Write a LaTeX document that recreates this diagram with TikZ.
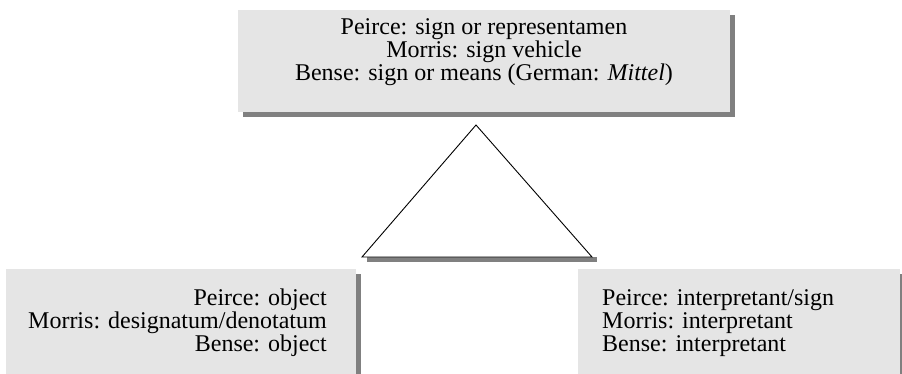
\documentclass[tikz,border=0pt]{standalone}
\usepackage{fontspec}
\setmainfont{Liberation Serif}
\usetikzlibrary{shadows}

\definecolor{boxgray}{HTML}{E5E5E5}
\definecolor{shadegray}{HTML}{808080}

\tikzset{
  sembox/.style={rectangle, fill=boxgray, inner sep=0pt,
    general shadow={fill=shadegray, shadow xshift=5pt, shadow yshift=-5pt}},
  semtext/.style={inner sep=0pt, font=\fontsize{24}{24}\selectfont}
}

\begin{document}
\begin{tikzpicture}[x=1pt,y=-1pt]
\useasboundingbox (0,0) rectangle (902,373);
\clip (0,0) rectangle (902,373);
% sign vehicle on top
\node[sembox, minimum width=492pt, minimum height=102pt] (sign) at (484,61) {};
\node[semtext, anchor=base] (signA) at (484,34) {Peirce: sign or representamen};
\node[semtext, anchor=base] (signB) at (484,57) {Morris: sign vehicle};
\node[semtext, anchor=base] (signC) at (484,80) {Bense: sign or means (German: \textit{Mittel})};
% triangle
\coordinate (apex) at (476,125);
\coordinate (lbase) at (362,257);
\coordinate (rbase) at (592,257);
\fill[shadegray] ([xshift=5pt]lbase) rectangle ([xshift=5pt,yshift=-5pt]rbase);
\draw[line width=0.9pt, fill=white] (apex) -- (rbase) -- (lbase) -- cycle;
% object, left
\node[sembox, minimum width=350pt, minimum height=110pt] (obj) at (181,324) {};
\node[semtext, anchor=base east] (objA) at (327,305) {Peirce: object};
\node[semtext, anchor=base east] (objB) at (327,328) {Morris: designatum/denotatum};
\node[semtext, anchor=base east] (objC) at (327,351) {Bense: object};
% interpretant, right
\node[sembox, minimum width=322pt, minimum height=110pt] (intp) at (739,324) {};
\node[semtext, anchor=base west] (intpA) at (602,305) {Peirce: interpretant/sign};
\node[semtext, anchor=base west] (intpB) at (602,328) {Morris: interpretant};
\node[semtext, anchor=base west] (intpC) at (602,351) {Bense: interpretant};
\end{tikzpicture}
\end{document}
